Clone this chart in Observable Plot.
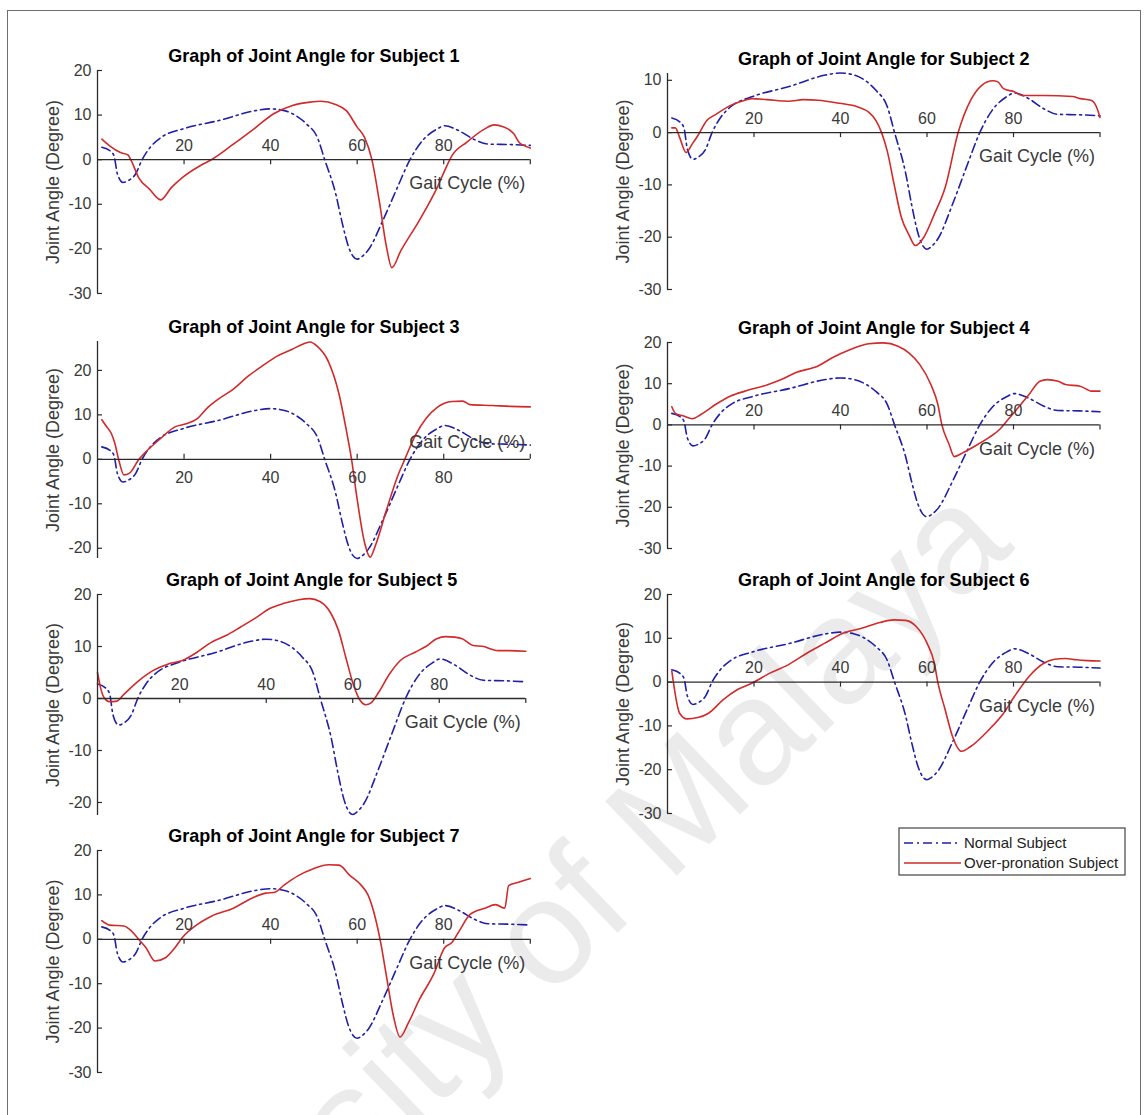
<!DOCTYPE html>
<html>
<head>
<meta charset="utf-8">
<script src="https://cdn.jsdelivr.net/npm/d3@7"></script>
<script src="https://cdn.jsdelivr.net/npm/@observablehq/plot@0.6"></script>
<style>
  html, body { margin: 0; padding: 0; background: #fff; overflow: hidden; }
  #fig { position: relative; width: 1144px; height: 1115px; overflow: hidden; font-family: "Liberation Sans", Arial, sans-serif; }
  #frame { position: absolute; left: 7px; top: 10px; width: 1134px; height: 1200px; border: 1.5px solid #6e6e6e; box-sizing: border-box; }
  #fig svg { position: absolute; }
</style>
</head>
<body>
<div id="fig"><div id="frame"></div></div>
<script>
// ---------------- DATA ----------------
const titles = [
  "Graph of Joint Angle for Subject 1", "Graph of Joint Angle for Subject 2",
  "Graph of Joint Angle for Subject 3", "Graph of Joint Angle for Subject 4",
  "Graph of Joint Angle for Subject 5", "Graph of Joint Angle for Subject 6",
  "Graph of Joint Angle for Subject 7"
];
const xLabel = "Gait Cycle (%)";
const yLabel = "Joint Angle (Degree)";
const seriesNames = ["Normal Subject", "Over-pronation Subject"];
const watermark = "University of Malaya";
const xTicks = [20, 40, 60, 80, 100];
const xTickLabels = [20, 40, 60, 80];
const yTicksA = [-30, -20, -10, 0, 10, 20];
const yTicksB = [-30, -20, -10, 0, 10];
const yTicksC = [-20, -10, 0, 10, 20];

// Normal subject (same reference curve in every panel): [gait %, angle]
const normal = [[1,2.8],[2.9,2.0],[3.8,0.9],[4.6,-3.2],[5.9,-5.1],[7.1,-4.7],[8.8,-3.2],[10.3,0],[12.2,2.8],[14.7,5.0],[19.7,6.9],[28.1,8.8],[36.5,11.0],[39.9,11.4],[43.2,11.0],[45.8,9.9],[48.3,8.0],[50.8,5.0],[52.5,0],[55,-7.5],[56.5,-14],[58,-19.5],[59,-21.6],[60,-22.3],[61,-21.8],[62.6,-20.2],[65.9,-13.7],[69.3,-6.2],[72.2,0],[75.1,4.3],[78.5,6.9],[80.2,7.6],[83.5,6.5],[86.9,4.6],[90.2,3.5],[95.3,3.4],[100,3.2]];

// Over-pronation subjects 1..7: [gait %, angle]
const sub1 = [[1,4.6],[2.8,3.1],[5.3,1.6],[7,1.1],[7.8,-0.2],[9.5,-4],[12,-6.6],[14.6,-9.0],[17.1,-6.2],[19.6,-4],[23.8,-1.3],[26.3,0],[31.4,3.5],[36.4,7.1],[40.7,10.3],[44.9,12.1],[49.1,12.9],[51.6,13.1],[55,12.4],[57.5,11],[60,7.3],[61.7,5],[63.4,0],[65.1,-9.2],[66.8,-19.7],[68,-24.2],[70.1,-20.4],[74.3,-13.7],[78.5,-6.2],[80.2,-2.5],[81.9,0.9],[85.3,3.9],[89.5,6.9],[91.6,7.8],[93.7,7.4],[96.2,5.8],[97.5,3.8],[98.7,3.1],[100,2.6]];
const sub2 = [[1,0.9],[1.8,0.9],[2.8,-0.9],[4.3,-3.8],[5.7,-2.2],[7,-0.6],[9.1,2.3],[11.2,3.5],[14.6,5.2],[17.9,6.2],[19.6,6.5],[23,6.3],[28,6],[31.4,6.3],[34.8,6.2],[39.8,5.6],[44,4.9],[46.5,3.9],[48.2,2.3],[49.5,0],[50.8,-3.5],[52.4,-9.9],[54.1,-16.3],[55.8,-19.5],[57.3,-21.6],[59.2,-20.1],[61.7,-15.6],[64.2,-10.5],[67.2,0],[70.1,6.2],[72.6,9],[75.2,9.9],[76.4,9.7],[77.7,8.4],[80.2,7.8],[81.9,7.1],[87,7.1],[93.7,6.9],[95.4,6.5],[97.9,6.2],[99.2,4.9],[100,2.9]];
const sub3 = [[1,8.9],[1.9,7.6],[3.2,5.8],[4,3.6],[4.9,-0.1],[6.1,-3.5],[7.4,-3.1],[9.5,-0.1],[11.2,1.7],[14.6,4.7],[17.9,7.3],[20.5,8],[23,9.1],[25.5,11.7],[28,13.6],[31.4,15.8],[34.8,18.7],[38.1,21],[41.5,23.2],[44.9,24.7],[47.4,25.9],[49.1,26.4],[50.8,25.4],[53.3,22.1],[55.8,14.7],[57.5,6.5],[58.7,0],[60,-9],[61.7,-18.7],[63,-22],[64.2,-19.4],[66.8,-11.3],[69.3,-3.9],[71,0],[73.5,5.5],[76,9.3],[78.5,11.7],[81.9,13],[84.4,13.1],[86.1,12.3],[91.2,12.1],[95.4,11.9],[100,11.8]];
const sub4 = [[1,4.4],[1.9,2.7],[3.6,2.2],[5.7,1.5],[7.8,2.6],[11.2,5],[14.6,7],[17.9,8.2],[23,9.7],[26.3,11],[29.7,12.7],[34.8,14.3],[38.1,16.3],[42.3,18.3],[46.5,19.7],[49.9,19.9],[53.3,19.1],[55.8,17.5],[58.3,14.7],[60.9,9.8],[62.5,5],[63.4,0.2],[65.1,-4.7],[66.3,-7.7],[68.4,-6.7],[71.8,-4.7],[74.3,-3.1],[76.9,-1],[78.5,1],[81.1,4.2],[83.6,7.4],[86.1,10.6],[87.8,11],[90.3,10.6],[92,9.8],[95.4,9.4],[97,8.6],[97.9,8.2],[100,8.2]];
const sub5 = [[1,5],[1.7,2.1],[2.5,0.2],[3.8,-0.6],[5.5,-0.5],[7.1,0.8],[10.5,3.4],[13.9,5.4],[17.2,6.6],[20.6,7.3],[24,8.9],[27.3,10.8],[30.7,12.1],[34,13.7],[37.4,15.4],[40.8,17.3],[44.1,18.3],[47.5,19],[50,19.2],[52.5,18.6],[55,16.3],[56.7,13.1],[58.4,7.9],[60.1,2.8],[61.8,-0.5],[63,-1.2],[64.3,-0.8],[66,1.2],[68.5,4.7],[71,7.3],[74.4,8.9],[76.9,10],[79.4,11.5],[81.5,11.9],[83.6,11.8],[85.3,11.5],[87.8,10.2],[90.3,10],[92,9.5],[93.7,9.2],[96.2,9.2],[100,9.1]];
const sub6 = [[1,2.5],[2.8,-7.1],[4.5,-8.4],[7,-8.1],[9.5,-7.1],[12.9,-4],[16.2,-1.7],[19.6,-0.2],[23.8,2.1],[28,4],[32.2,6.6],[36.4,8.9],[40.7,11.2],[44.9,12.3],[49.1,13.6],[52.4,14.2],[55,14.1],[57.5,12.7],[60,8.9],[61.7,4.3],[62.5,0],[64.2,-6.3],[65.9,-12.4],[68,-15.8],[70.1,-14.7],[74.3,-10.9],[77.7,-7.1],[80.2,-3.3],[83.6,1.3],[87,4.3],[89.5,5.2],[92,5.4],[94.5,5.1],[97.1,4.9],[100,4.8]];
const sub7 = [[1,4.2],[2.8,3.2],[6.1,3],[7.8,1.9],[9.5,0],[11.2,-1.9],[13.3,-4.9],[15.8,-4.1],[17.9,-1.9],[19.6,0.4],[23,3.3],[26.3,5.2],[31.4,7],[36.4,9.6],[38.9,10.4],[41,10.6],[43.1,12.2],[46.5,14.4],[49.9,15.9],[53.3,16.8],[55.8,16.7],[58.3,14.4],[60.9,12.2],[62.5,10],[64.2,4.8],[65.5,-1.1],[66.8,-8.5],[68.4,-17.4],[69.9,-22],[71.8,-18.9],[74.3,-13.7],[77.7,-7.8],[80.2,-1.9],[81.9,-0.7],[83.6,1.9],[86.1,5.6],[89.5,7],[92,7.8],[94.1,7],[95,12.1],[97.1,12.8],[100,13.7]];
const subjects = [sub1, sub2, sub3, sub4, sub5, sub6, sub7];

// axis limits per panel
const xDomains = [[0,100],[0,100],[0,100],[0,100],[1,100],[0,100],[0,100]];
const yDomains = [[-30,20],[-30,11.3],[-22.3,26.5],[-30,20],[-22.5,20],[-30,20],[-30,20]];
const yTickSets = [yTicksA, yTicksB, yTicksC, yTicksA, yTicksC, yTicksA, yTicksA];

// ---------------- LAYOUT / STYLE ----------------
const frames = [ // page px of each axes box
  {L:96.5, R:529.3, T:70,  B:293},
  {L:667,  R:1099.5,T:73,  B:289},
  {L:96.5, R:529.3, T:341, B:558},
  {L:667,  R:1099.5,T:342, B:548},
  {L:97,   R:525.3, T:594, B:815},
  {L:667,  R:1099.5,T:594, B:813},
  {L:96.5, R:529.3, T:850, B:1072}
];
const labelsBelow = [false, false, true, false, false, false, false];
const BLUE = "#1f1faa", RED = "#d12a2a", AXIS = "#2b2b2b", TICKTXT = "#3a3a3a";
const DASH = "9,4,2,4";
const FONT = "'Liberation Sans', Arial, Helvetica, sans-serif";
const fig = document.getElementById("fig");

// watermark (behind everything)
{
  const ns = "http://www.w3.org/2000/svg";
  const svg = document.createElementNS(ns, "svg");
  svg.setAttribute("width", 1144); svg.setAttribute("height", 1115);
  svg.style.left = "0px"; svg.style.top = "0px";
  const t = document.createElementNS(ns, "text");
  t.setAttribute("transform", "translate(668,884) rotate(-44)");
  t.setAttribute("x", -867);
  t.setAttribute("fill", "#ebebeb");
  t.setAttribute("font-family", FONT);
  t.setAttribute("font-size", 150);
  t.textContent = watermark;
  svg.appendChild(t);
  fig.appendChild(svg);
}

const ml = 100, mr = 20, mt = 40, mb = 40;
subjects.forEach((sub, i) => {
  const f = frames[i], xd = xDomains[i], yd = yDomains[i], yt = yTickSets[i];
  const below = labelsBelow[i];
  const plot = Plot.plot({
    width: (f.R - f.L) + ml + mr,
    height: (f.B - f.T) + mt + mb,
    marginLeft: ml, marginRight: mr, marginTop: mt, marginBottom: mb,
    x: {domain: xd, axis: null},
    y: {domain: yd, axis: null},
    style: {background: "none", overflow: "visible", fontFamily: FONT},
    marks: [
      Plot.line(normal, {x: d => d[0], y: d => d[1], stroke: BLUE, strokeWidth: 1.6, strokeDasharray: DASH, curve: "monotone-x"}),
      Plot.line(sub, {x: d => d[0], y: d => d[1], stroke: RED, strokeWidth: 1.6, curve: "monotone-x"}),
      Plot.ruleY([0], {stroke: AXIS, strokeWidth: 1.3}),
      Plot.ruleX([xd[0]], {stroke: AXIS, strokeWidth: 1.3}),
      Plot.ruleY(yt, {y: d => d, x1: xd[0], x2: xd[0], insetRight: -5, stroke: AXIS, strokeWidth: 1.2}),
      Plot.ruleX(xTicks, {x: d => d, y1: 0, y2: 0, insetBottom: below ? 5 : -5, stroke: AXIS, strokeWidth: 1.2}),
      Plot.text(yt, {x: xd[0], y: d => d, text: d => String(d), textAnchor: "end", dx: -6, fontSize: 16, fill: TICKTXT}),
      Plot.text(xTickLabels, {x: d => d, y: 0, text: d => String(d), dy: below ? 19 : -14, fontSize: 16, fill: TICKTXT}),
      Plot.text([xLabel], {x: xd[1], y: 0, text: d => d, textAnchor: "end", dx: -5, dy: below ? -17 : 24, fontSize: 18, fill: TICKTXT}),
      Plot.text([yLabel], {frameAnchor: "left", text: d => d, rotate: -90, textAnchor: "middle", dx: -44, fontSize: 18, fill: TICKTXT}),
      Plot.text([titles[i]], {frameAnchor: "top", text: d => d, lineAnchor: "middle", dy: -14, fontSize: 18, fontWeight: "bold", fill: "#000"})
    ]
  });
  plot.style.position = "absolute";
  plot.style.left = (f.L - ml) + "px";
  plot.style.top = (f.T - mt) + "px";
  fig.appendChild(plot);
});

// legend
{
  const ns = "http://www.w3.org/2000/svg";
  const svg = document.createElementNS(ns, "svg");
  svg.setAttribute("width", 228); svg.setAttribute("height", 49);
  svg.style.left = "898px"; svg.style.top = "827px";
  const rect = document.createElementNS(ns, "rect");
  rect.setAttribute("x", 1); rect.setAttribute("y", 1); rect.setAttribute("width", 226); rect.setAttribute("height", 47);
  rect.setAttribute("fill", "#fff"); rect.setAttribute("stroke", "#444"); rect.setAttribute("stroke-width", 1.2);
  svg.appendChild(rect);
  const colors = [BLUE, RED], dashes = [DASH, null];
  seriesNames.forEach((name, k) => {
    const y = 16 + k * 20;
    const ln = document.createElementNS(ns, "line");
    ln.setAttribute("x1", 6); ln.setAttribute("x2", 63); ln.setAttribute("y1", y); ln.setAttribute("y2", y);
    ln.setAttribute("stroke", colors[k]); ln.setAttribute("stroke-width", 1.6);
    if (dashes[k]) ln.setAttribute("stroke-dasharray", dashes[k]);
    svg.appendChild(ln);
    const tx = document.createElementNS(ns, "text");
    tx.setAttribute("x", 66); tx.setAttribute("y", y); tx.setAttribute("dy", "0.35em");
    tx.setAttribute("font-family", FONT); tx.setAttribute("font-size", 15); tx.setAttribute("fill", "#222");
    tx.textContent = name;
    svg.appendChild(tx);
  });
  fig.appendChild(svg);
}
</script>
</body>
</html>
